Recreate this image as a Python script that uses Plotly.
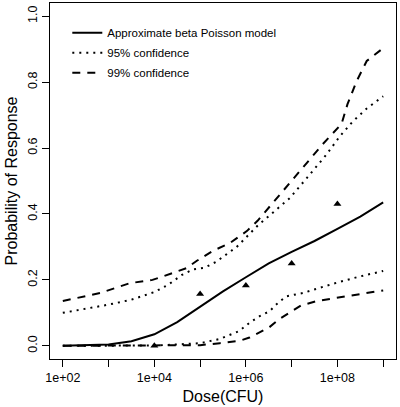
import plotly.graph_objects as go

# ---- data ----
model_dose = [1e2, 3.16e2, 1e3, 3.16e3, 1e4, 3.16e4, 1e5, 3.16e5, 1e6, 3.16e6, 1e7, 3.16e7, 1e8, 3.16e8, 1e9]
model_p = [0.0, 0.001, 0.004, 0.014, 0.035, 0.072, 0.118, 0.165, 0.208, 0.25, 0.285, 0.318, 0.355, 0.392, 0.435]

up95_dose = [1e2, 3.16e2, 1e3, 3.16e3, 1e4, 2.0e4, 4.0e4, 7.1e4, 1.26e5, 2.24e5, 6.3e5, 1.82e6, 9.1e6, 2.14e7, 5.75e7, 1.12e8, 2.14e8, 4.37e8, 1e9]
up95_p = [0.10, 0.112, 0.125, 0.14, 0.163, 0.185, 0.215, 0.232, 0.237, 0.255, 0.30, 0.365, 0.448, 0.509, 0.58, 0.635, 0.68, 0.72, 0.757]

up99_dose = [1e2, 6.5e2, 2.9e3, 9.1e3, 1.5e4, 5.1e4, 8.5e4, 1.9e5, 4.5e5, 1.05e6, 1.82e6, 4.7e6, 1.74e7, 4.8e7, 1.23e8, 1.66e8, 2.63e8, 4.37e8, 1e9]
up99_p = [0.136, 0.16, 0.19, 0.20, 0.21, 0.236, 0.258, 0.288, 0.312, 0.348, 0.38, 0.448, 0.54, 0.612, 0.673, 0.733, 0.803, 0.864, 0.903]

lo95_dose = [1e2, 1e3, 1e4, 3.16e4, 1e5, 2.7e5, 7.2e5, 1.2e6, 2.0e6, 3.3e6, 5.0e6, 7.6e6, 1.74e7, 7.9e7, 3.0e8, 1e9]
lo95_p = [0.0, 0.0, 0.001, 0.004, 0.008, 0.021, 0.045, 0.07, 0.09, 0.105, 0.13, 0.15, 0.16, 0.188, 0.21, 0.227]

lo99_dose = [1e2, 1e4, 1e5, 2.7e5, 7.2e5, 1.2e6, 2.0e6, 3.16e6, 5.5e6, 9.1e6, 1.58e7, 3.55e7, 1.26e8, 3.16e8, 1e9]
lo99_p = [0.0, 0.0, 0.002, 0.008, 0.015, 0.025, 0.04, 0.055, 0.082, 0.10, 0.122, 0.136, 0.148, 0.156, 0.168]

obs_dose = [1e4, 1e5, 1e6, 1e7, 1e8]
obs_p = [0.0, 0.157, 0.183, 0.25, 0.43]

x_tickvals = [1e2, 1e3, 1e4, 1e5, 1e6, 1e7, 1e8, 1e9]
x_ticktext = ["1e+02", "", "1e+04", "", "1e+06", "", "1e+08", ""]
y_tickvals = [0.0, 0.2, 0.4, 0.6, 0.8, 1.0]
y_ticktext = ["0.0", "0.2", "0.4", "0.6", "0.8", "1.0"]

FONT = "Liberation Sans, Arial, sans-serif"

fig = go.Figure()
fig.add_trace(go.Scatter(x=model_dose, y=model_p, mode="lines", name="Approximate beta Poisson model",
                         line=dict(color="black", width=2), legendgroup="a"))
fig.add_trace(go.Scatter(x=up95_dose, y=up95_p, mode="lines", name="95% confidence",
                         line=dict(color="black", width=2, dash="2px,5px"), legendgroup="b"))
fig.add_trace(go.Scatter(x=lo95_dose, y=lo95_p, mode="lines", showlegend=False,
                         line=dict(color="black", width=2, dash="2px,5px"), legendgroup="b"))
fig.add_trace(go.Scatter(x=up99_dose, y=up99_p, mode="lines", name="99% confidence",
                         line=dict(color="black", width=2, dash="8px,7px"), legendgroup="c"))
fig.add_trace(go.Scatter(x=lo99_dose, y=lo99_p, mode="lines", showlegend=False,
                         line=dict(color="black", width=2, dash="8px,7px"), legendgroup="c"))
fig.add_trace(go.Scatter(x=obs_dose, y=obs_p, mode="markers", showlegend=False,
                         marker=dict(symbol="triangle-up", size=7, color="black")))

fig.update_layout(
    width=400, height=407,
    margin=dict(l=50, r=4, t=3, b=48),
    paper_bgcolor="white", plot_bgcolor="white",
    font=dict(family=FONT, size=12.5, color="black"),
    showlegend=True,
    legend=dict(x=0.05, y=0.957, xanchor="left", yanchor="top", bgcolor="rgba(0,0,0,0)",
                font=dict(size=11.5), traceorder="grouped", tracegroupgap=1, itemwidth=30),
    xaxis=dict(type="log", range=[1.72, 9.28], tickvals=x_tickvals, ticktext=x_ticktext,
               ticks="outside", ticklen=7, tickcolor="black", showgrid=False, zeroline=False,
               showline=True, linecolor="black", linewidth=1, mirror=True,
               title=dict(text="Dose(CFU)", font=dict(size=16), standoff=6)),
    yaxis=dict(range=[-0.04, 1.04], tickvals=y_tickvals, ticktext=y_ticktext, tickangle=-90,
               ticks="outside", ticklen=7, tickcolor="black", showgrid=False, zeroline=False,
               showline=True, linecolor="black", linewidth=1, mirror=True,
               title=dict(text="Probability of Response", font=dict(size=16), standoff=4)),
)

fig.write_html("out.html")
